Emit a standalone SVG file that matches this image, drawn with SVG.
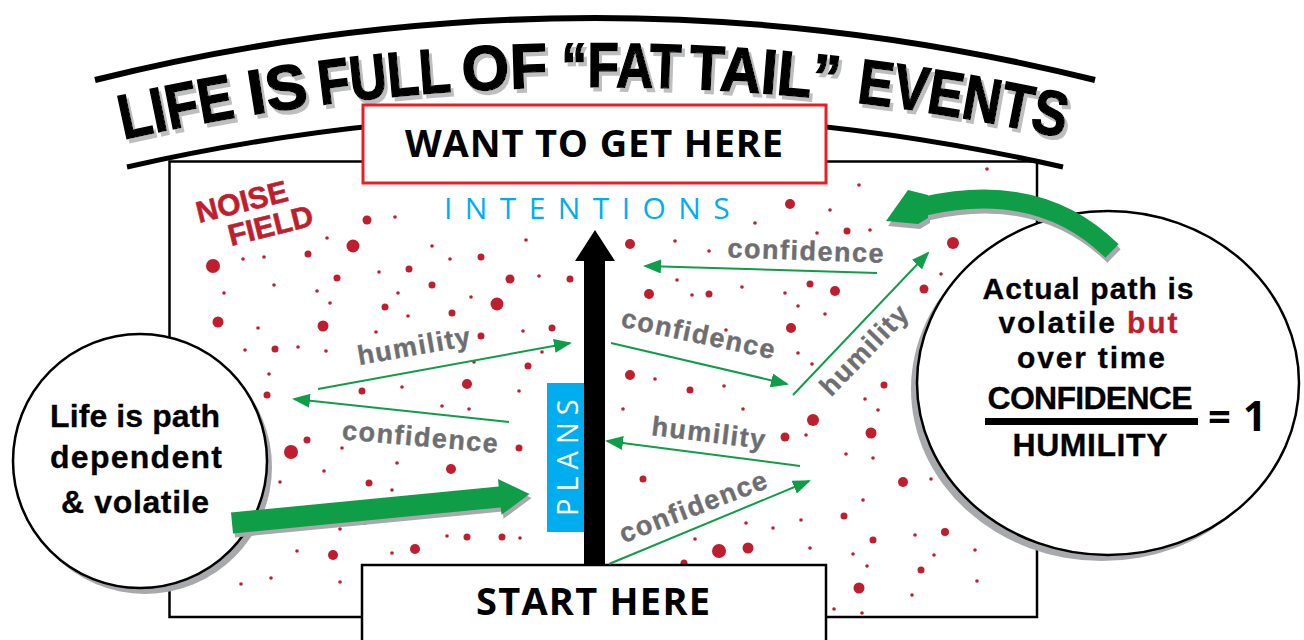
<svg xmlns="http://www.w3.org/2000/svg" width="1304" height="640" viewBox="0 0 1304 640">
<style>
.dot{fill:#be1e2d}
.lbl{font-family:"Liberation Sans",Arial,sans-serif;font-weight:bold;font-size:27px;fill:#6d6e71;stroke:#6d6e71;stroke-width:0.4;letter-spacing:1.5px;text-anchor:middle}
.thin{stroke:#0f9d48;stroke-width:2;fill:none;marker-end:url(#ah)}
.bold{font-family:"Open Sans","Liberation Sans",sans-serif;font-weight:700;fill:#000;text-anchor:middle}
.cir{font-family:"Liberation Sans",Arial,sans-serif;font-weight:700;fill:#000;text-anchor:middle;stroke:#000;stroke-width:0.3}
.ttl{font-family:"Liberation Sans",Arial,sans-serif;font-weight:bold;font-size:63px;fill:#000;stroke:#000;stroke-width:1.5}
.grn{fill:#0f9d48}
.shd{fill:#a7a9ac}
</style>
<defs>
<marker id="ah" viewBox="0 0 18 14" refX="16" refY="7" markerWidth="18" markerHeight="14" markerUnits="userSpaceOnUse" orient="auto"><path d="M0,0 L18,7 L0,14 Z" fill="#0f9d48"/></marker>
<path id="tp" d="M110,142.6 A2159,2159 0 0 1 1085,142.7"/>
<filter id="tsh" x="-10%" y="-20%" width="120%" height="150%">
<feOffset in="SourceAlpha" dx="3" dy="4" result="o"/>
<feFlood flood-color="#bcbec0"/>
<feComposite in2="o" operator="in" result="s"/>
<feMerge><feMergeNode in="s"/><feMergeNode in="SourceGraphic"/></feMerge>
</filter>
</defs>
<rect width="1304" height="640" fill="#fff"/>

<g id="title">
<path d="M95,80 Q595,-44 1095,80" fill="none" stroke="#000" stroke-width="6"/>
<path d="M127,167 Q595,61 1063,167" fill="none" stroke="#000" stroke-width="5"/>
<g class="ttl" filter="url(#tsh)">
<text><textPath href="#tp" startOffset="14" textLength="115" lengthAdjust="spacingAndGlyphs">LIFE</textPath></text>
<text><textPath href="#tp" startOffset="144" textLength="59" lengthAdjust="spacingAndGlyphs">IS</textPath></text>
<text><textPath href="#tp" startOffset="214" textLength="132" lengthAdjust="spacingAndGlyphs">FULL</textPath></text>
<text><textPath href="#tp" startOffset="357" textLength="85" lengthAdjust="spacingAndGlyphs">OF</textPath></text>
<text><textPath href="#tp" startOffset="456" textLength="119" lengthAdjust="spacingAndGlyphs">“FAT</textPath></text>
<text><textPath href="#tp" startOffset="583" textLength="150" lengthAdjust="spacingAndGlyphs">TAIL”</textPath></text>
<text><textPath href="#tp" startOffset="751" textLength="210" lengthAdjust="spacingAndGlyphs">EVENTS</textPath></text>
</g>
</g>

<g id="frame">
<rect x="169.5" y="161.5" width="867.5" height="455.5" fill="none" stroke="#000" stroke-width="2.5"/>
</g>

<g id="noise-dots">
<circle class="dot" cx="367" cy="220" r="4.5"/><circle class="dot" cx="395" cy="217" r="1.8"/><circle class="dot" cx="353" cy="246" r="6.5"/><circle class="dot" cx="327" cy="238" r="1.8"/><circle class="dot" cx="308" cy="254" r="3.5"/><circle class="dot" cx="213" cy="266" r="7"/><circle class="dot" cx="243" cy="259" r="1.8"/><circle class="dot" cx="264" cy="257" r="1.8"/><circle class="dot" cx="274" cy="285" r="1.8"/><circle class="dot" cx="224" cy="293" r="1.8"/><circle class="dot" cx="337" cy="278" r="3.5"/><circle class="dot" cx="317" cy="291" r="1.8"/><circle class="dot" cx="330" cy="303" r="1.8"/><circle class="dot" cx="379" cy="272" r="1.8"/><circle class="dot" cx="409" cy="269" r="3.5"/><circle class="dot" cx="432" cy="246" r="1.8"/><circle class="dot" cx="450" cy="259" r="1.8"/><circle class="dot" cx="481" cy="257" r="3.5"/><circle class="dot" cx="526" cy="240" r="1.8"/><circle class="dot" cx="510" cy="279" r="4.5"/><circle class="dot" cx="539" cy="276" r="1.8"/><circle class="dot" cx="570" cy="279" r="3.5"/><circle class="dot" cx="432" cy="285" r="3.5"/><circle class="dot" cx="398" cy="293" r="1.8"/><circle class="dot" cx="471" cy="297" r="1.8"/><circle class="dot" cx="497" cy="304" r="6.5"/><circle class="dot" cx="385" cy="307" r="3.5"/><circle class="dot" cx="408" cy="316" r="1.8"/><circle class="dot" cx="452" cy="313" r="3.5"/><circle class="dot" cx="218" cy="322" r="5.5"/><circle class="dot" cx="323" cy="326" r="5.5"/><circle class="dot" cx="258" cy="328" r="1.8"/><circle class="dot" cx="376" cy="332" r="1.8"/><circle class="dot" cx="481" cy="336" r="3.5"/><circle class="dot" cx="523" cy="331" r="1.8"/><circle class="dot" cx="552" cy="328" r="3.5"/><circle class="dot" cx="245" cy="350" r="1.8"/><circle class="dot" cx="275" cy="349" r="3.5"/><circle class="dot" cx="298" cy="347" r="1.8"/><circle class="dot" cx="326" cy="351" r="1.8"/><circle class="dot" cx="542" cy="352" r="1.8"/><circle class="dot" cx="474" cy="362" r="1.8"/><circle class="dot" cx="528" cy="366" r="3.5"/><circle class="dot" cx="269" cy="374" r="1.8"/><circle class="dot" cx="267" cy="395" r="3.5"/><circle class="dot" cx="362" cy="391" r="3.5"/><circle class="dot" cx="402" cy="387" r="1.8"/><circle class="dot" cx="467" cy="384" r="5"/><circle class="dot" cx="519" cy="391" r="1.8"/><circle class="dot" cx="442" cy="406" r="1.8"/><circle class="dot" cx="469" cy="409" r="1.8"/>
<circle class="dot" cx="307" cy="440" r="3.5"/><circle class="dot" cx="342" cy="448" r="1.8"/><circle class="dot" cx="291" cy="452" r="7"/><circle class="dot" cx="519" cy="448" r="3.5"/><circle class="dot" cx="397" cy="463" r="1.8"/><circle class="dot" cx="451" cy="469" r="5"/><circle class="dot" cx="324" cy="471" r="1.8"/><circle class="dot" cx="280" cy="482" r="1.8"/><circle class="dot" cx="369" cy="483" r="3.5"/><circle class="dot" cx="392" cy="490" r="1.8"/><circle class="dot" cx="364" cy="522" r="3"/><circle class="dot" cx="340" cy="529" r="1.8"/><circle class="dot" cx="447" cy="536" r="1.8"/><circle class="dot" cx="467" cy="537" r="3.5"/><circle class="dot" cx="502" cy="537" r="3.5"/><circle class="dot" cx="520" cy="538" r="1.8"/><circle class="dot" cx="297" cy="551" r="1.8"/><circle class="dot" cx="333" cy="555" r="5"/><circle class="dot" cx="392" cy="553" r="1.8"/><circle class="dot" cx="415" cy="549" r="5"/><circle class="dot" cx="241" cy="584" r="1.8"/><circle class="dot" cx="271" cy="578" r="1.8"/><circle class="dot" cx="340" cy="582" r="1.8"/>
<circle class="dot" cx="859" cy="185" r="1.8"/><circle class="dot" cx="790" cy="204" r="5"/><circle class="dot" cx="830" cy="210" r="1.8"/><circle class="dot" cx="755" cy="223" r="1.8"/><circle class="dot" cx="817" cy="233" r="1.8"/><circle class="dot" cx="847" cy="231" r="3.5"/><circle class="dot" cx="870" cy="230" r="1.8"/><circle class="dot" cx="953" cy="243" r="6"/><circle class="dot" cx="630" cy="244" r="5"/><circle class="dot" cx="675" cy="241" r="1.8"/><circle class="dot" cx="709" cy="251" r="1.8"/><circle class="dot" cx="941" cy="274" r="1.8"/><circle class="dot" cx="677" cy="280" r="1.8"/><circle class="dot" cx="810" cy="284" r="3.5"/><circle class="dot" cx="835" cy="291" r="5"/><circle class="dot" cx="924" cy="289" r="4.5"/><circle class="dot" cx="649" cy="294" r="5"/><circle class="dot" cx="692" cy="295" r="1.8"/><circle class="dot" cx="709" cy="294" r="3.5"/><circle class="dot" cx="742" cy="287" r="1.8"/><circle class="dot" cx="785" cy="293" r="1.8"/><circle class="dot" cx="798" cy="306" r="1.8"/><circle class="dot" cx="825" cy="314" r="1.8"/><circle class="dot" cx="791" cy="328" r="5"/><circle class="dot" cx="726" cy="330" r="1.8"/><circle class="dot" cx="798" cy="353" r="1.8"/><circle class="dot" cx="812" cy="364" r="1.8"/><circle class="dot" cx="630" cy="375" r="5"/><circle class="dot" cx="655" cy="379" r="1.8"/><circle class="dot" cx="690" cy="390" r="3.5"/><circle class="dot" cx="724" cy="386" r="1.8"/><circle class="dot" cx="623" cy="409" r="1.8"/><circle class="dot" cx="743" cy="409" r="1.8"/><circle class="dot" cx="884" cy="385" r="3.5"/><circle class="dot" cx="865" cy="399" r="1.8"/><circle class="dot" cx="878" cy="410" r="1.8"/><circle class="dot" cx="813" cy="420" r="6"/><circle class="dot" cx="987" cy="169" r="1.8"/>
<circle class="dot" cx="785" cy="437" r="4.5"/><circle class="dot" cx="806" cy="435" r="1.8"/><circle class="dot" cx="871" cy="433" r="5.5"/><circle class="dot" cx="846" cy="454" r="1.8"/><circle class="dot" cx="873" cy="458" r="1.8"/><circle class="dot" cx="643" cy="479" r="3.5"/><circle class="dot" cx="903" cy="482" r="5"/><circle class="dot" cx="931" cy="479" r="1.8"/><circle class="dot" cx="863" cy="500" r="1.8"/><circle class="dot" cx="844" cy="516" r="3.5"/><circle class="dot" cx="746" cy="523" r="1.8"/><circle class="dot" cx="773" cy="528" r="1.8"/><circle class="dot" cx="801" cy="520" r="1.8"/><circle class="dot" cx="695" cy="539" r="1.8"/><circle class="dot" cx="719" cy="551" r="7"/><circle class="dot" cx="748" cy="548" r="5.5"/><circle class="dot" cx="810" cy="548" r="1.8"/><circle class="dot" cx="873" cy="540" r="3.5"/><circle class="dot" cx="853" cy="554" r="1.8"/><circle class="dot" cx="915" cy="535" r="1.8"/><circle class="dot" cx="945" cy="532" r="4"/><circle class="dot" cx="934" cy="555" r="1.8"/><circle class="dot" cx="975" cy="550" r="1.8"/><circle class="dot" cx="867" cy="566" r="1.8"/><circle class="dot" cx="921" cy="570" r="3.5"/><circle class="dot" cx="859" cy="588" r="5.5"/><circle class="dot" cx="912" cy="595" r="1.8"/><circle class="dot" cx="977" cy="581" r="1.8"/><circle class="dot" cx="834" cy="609" r="1.8"/><circle class="dot" cx="862" cy="613" r="1.8"/><circle class="dot" cx="684" cy="563" r="3.5"/><circle class="dot" cx="923" cy="440" r="2"/>
</g>

<g id="noise-field-label" font-family="'Liberation Sans',Arial,sans-serif" font-weight="bold" font-size="30" fill="#be1e2d" stroke="#be1e2d" stroke-width="0.6">
<text transform="translate(199,223) rotate(-14)">NOISE</text>
<text transform="translate(231,246) rotate(-14)">FIELD</text>
</g>

<g id="want-box">
<rect x="363" y="105" width="463" height="78" fill="#fff" stroke="#ed1c24" stroke-width="3"/>
<text class="bold" x="594" y="157" font-size="38" textLength="378">WANT TO GET HERE</text>
</g>

<g id="intentions">
<text x="444" y="219" font-family="'Open Sans','Liberation Sans',sans-serif" font-size="30" fill="#00aeef" letter-spacing="12.4">INTENTIONS</text>
</g>

<g id="plans">
<rect x="547" y="383" width="37" height="149" fill="#00aeef"/>
<text transform="translate(578,516) rotate(-90)" font-family="'Open Sans','Liberation Sans',sans-serif" font-size="29" fill="#fff" letter-spacing="7">PLANS</text>
</g>

<g id="start-box">
<rect x="362" y="565" width="464" height="90" fill="#fff" stroke="#000" stroke-width="2.5"/>
<text class="bold" x="593" y="615" font-size="38" textLength="234">START HERE</text>
</g>

<g id="left-circle">
<circle cx="145" cy="467" r="127" fill="#a7a9ac"/>
<circle cx="140" cy="461" r="127" fill="#fff" stroke="#000" stroke-width="2.5"/>
<text class="cir" font-size="32"><tspan x="135" y="427" textLength="170">Life is path</tspan><tspan x="136" y="468" textLength="172">dependent</tspan><tspan x="135" y="513" textLength="148">&amp; volatile</tspan></text>
</g>

<g id="right-circle">
<ellipse cx="1102" cy="389" rx="191" ry="172" fill="#a7a9ac"/>
<ellipse cx="1108" cy="383" rx="191" ry="172" fill="#fff" stroke="#000" stroke-width="2.5"/>
<text class="cir" font-size="30"><tspan x="1088" y="299" textLength="211">Actual path is</tspan><tspan x="1088" y="333" textLength="179">volatile <tspan fill="#be1e2d" stroke="#be1e2d">but</tspan></tspan><tspan x="1091" y="368" textLength="148">over time</tspan></text>
<text class="cir" font-size="32"><tspan x="1090" y="409" textLength="205">CONFIDENCE</tspan><tspan x="1090" y="456" textLength="155">HUMILITY</tspan></text>
<rect x="985" y="418" width="213" height="7" fill="#000"/>
<text x="1208" y="431" font-family="'Open Sans','Liberation Sans',sans-serif" font-weight="700" font-size="40">=</text>
<text x="1243" y="431" font-family="'Open Sans','Liberation Sans',sans-serif" font-weight="700" font-size="41">1</text>
</g>

<g id="connectors">
<polygon points="584,566 584,261 575,261 595,230 615,261 605,261 605,566" fill="#000"/>
<line class="thin" x1="318" y1="389" x2="570" y2="343"/>
<line class="thin" x1="509" y1="422" x2="294" y2="399"/>
<line class="thin" x1="877" y1="273" x2="645" y2="266"/>
<line class="thin" x1="611" y1="343" x2="787" y2="384"/>
<line class="thin" x1="793" y1="395" x2="928" y2="253"/>
<line class="thin" x1="800" y1="466" x2="607" y2="441"/>
<line class="thin" x1="609" y1="564" x2="809" y2="481"/>
<text class="lbl" transform="translate(416,355) rotate(-10)">humility</text>
<text class="lbl" transform="translate(420,446) rotate(5)">confidence</text>
<text class="lbl" transform="translate(806,260) rotate(2)">confidence</text>
<text class="lbl" transform="translate(697,343) rotate(12)">confidence</text>
<text class="lbl" transform="translate(871,356) rotate(-46)">humility</text>
<text class="lbl" transform="translate(708,442) rotate(7)">humility</text>
<text class="lbl" transform="translate(697,515) rotate(-21)">confidence</text>
<g transform="translate(2,4)"><polygon class="shd" transform="translate(232,523) rotate(-5.56)" points="0,-10.5 269,-10.5 269,-18 299,0 269,18 269,10.5 0,10.5"/></g>
<polygon class="grn" transform="translate(232,523) rotate(-5.56)" points="0,-10.5 269,-10.5 269,-18 299,0 269,18 269,10.5 0,10.5"/>
<g transform="translate(2,5)">
<path d="M1112,251 Q1040,180 925,206" fill="none" stroke="#a7a9ac" stroke-width="19"/>
<polygon class="shd" points="886,221 908,190 928,195 928,218 918,224"/>
</g>
<path d="M1112,251 Q1040,180 925,206" fill="none" stroke="#0f9d48" stroke-width="19"/>
<polygon class="grn" points="886,221 908,190 928,195 928,218 918,224"/>
</g>
</svg>
